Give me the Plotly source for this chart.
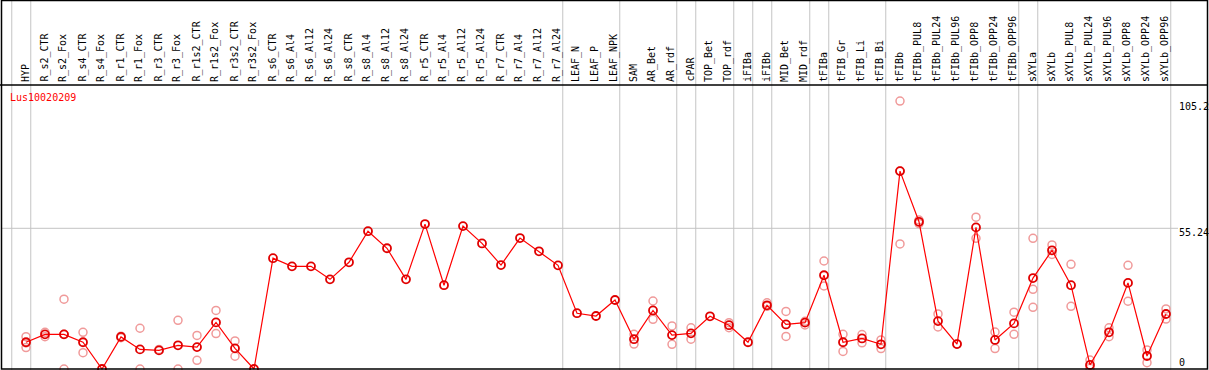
import plotly.graph_objects as go

categories = ["HYP", "R_s2_CTR", "R_s2_Fox", "R_s4_CTR", "R_s4_Fox", "R_r1_CTR", "R_r1_Fox",
              "R_r3_CTR", "R_r3_Fox", "R_r1s2_CTR", "R_r1s2_Fox", "R_r3s2_CTR", "R_r3s2_Fox",
              "R_s6_CTR", "R_s6_Al4", "R_s6_Al12", "R_s6_Al24", "R_s8_CTR", "R_s8_Al4",
              "R_s8_Al12", "R_s8_Al24", "R_r5_CTR", "R_r5_Al4", "R_r5_Al12", "R_r5_Al24",
              "R_r7_CTR", "R_r7_Al4", "R_r7_Al12", "R_r7_Al24", "LEAF_N", "LEAF_P", "LEAF_NPK",
              "SAM", "AR_Bet", "AR_rdf", "cPAR", "TOP_Bet", "TOP_rdf", "iFIBa", "iFIBb",
              "MID_Bet", "MID_rdf", "tFIBa", "tFIB_Gr", "tFIB_Li", "tFIB_Bi", "tFIBb",
              "tFIBb_PUL8", "tFIBb_PUL24", "tFIBb_PUL96", "tFIBb_OPP8", "tFIBb_OPP24",
              "tFIBb_OPP96", "sXYLa", "sXYLb", "sXYLb_PUL8", "sXYLb_PUL24", "sXYLb_PUL96",
              "sXYLb_OPP8", "sXYLb_OPP24", "sXYLb_OPP96"]

mean_values = [10.5, 13.6, 13.6, 10.5, 0.0, 12.6, 7.7, 7.3, 9.3, 8.6, 18.3, 8.1, 0.0,
               43.5, 40.3, 40.3, 35.2, 41.9, 54.1, 47.4, 35.2, 56.9, 32.9, 56.1, 49.3,
               40.8, 51.4, 46.2, 40.7, 21.9, 20.8, 27.1,
               11.7, 23.0, 13.3, 14.0, 20.7, 17.2, 10.5, 25.0, 17.5, 18.2, 36.8, 10.5,
               12.0, 9.7, 77.7, 57.8, 18.8, 9.8, 55.6, 11.4, 17.9, 35.7, 46.6, 32.9,
               1.6, 14.4, 33.8, 5.1, 21.6]

# replicate values: (category index, value)
rep_index = [0, 0, 0, 1, 1, 2, 2, 2, 3, 3, 5, 5, 6, 6, 7, 8, 8, 9, 9, 10, 10, 11, 11,
             32, 32, 33, 33, 34, 34, 35, 35, 37, 37, 39, 39, 40, 40, 41, 41, 42, 42,
             43, 43, 44, 44, 45, 45, 46, 46, 46, 47, 47, 48, 48, 49, 50, 50, 51, 51,
             52, 52, 53, 53, 53, 54, 54, 55, 55, 56, 56, 57, 57, 58, 58, 59, 59, 60, 60]
rep_values = [12.7, 8.4, 10.3, 14.4, 12.7, 27.4, 13.6, 0.0, 14.4, 6.4, 12.9, 12.3, 16.0, 0.0,
              7.7, 19.1, 0.0, 13.2, 3.4, 23.0, 13.9, 11.0, 5.0,
              13.6, 9.8, 26.7, 19.5, 16.9, 9.7, 16.2, 11.7, 18.2, 16.2, 26.0, 24.6,
              22.6, 12.8, 18.7, 17.3, 42.4, 32.6, 13.6, 6.9, 13.5, 10.3, 11.4, 8.0,
              105.2, 77.7, 49.1, 58.5, 57.1, 21.6, 16.5, 9.8, 59.6, 51.3, 14.5, 8.0,
              22.3, 13.6, 51.3, 31.3, 24.2, 48.7, 45.0, 41.1, 24.6, 3.5, 0.3,
              16.2, 12.7, 40.7, 26.6, 7.5, 2.5, 23.6, 19.6]

group_separators = [-0.75, 0.25, 28.25, 31.25, 34.25, 35.25, 37.25, 38.25, 39.25, 41.25,
                    42.25, 45.25, 52.25, 53.25, 60.25]
axis_labels = ["105.2", "55.24", "0"]
gene_name = "Lus10020209"

W, H = 1209, 370
x0_px, dx_px = 26.0, 19.0
y0_px, dy_px = 369.0, 2.547

x_range = [(0 - x0_px) / dx_px, (W - x0_px) / dx_px]
y_range = [(y0_px - H) / dy_px, y0_px / dy_px]

xs = list(range(len(categories)))
fig = go.Figure()

fig.add_trace(go.Scatter(
    x=rep_index, y=rep_values, mode="markers",
    marker=dict(symbol="circle-open", size=8, color="#f09a9a", line=dict(width=1.5)),
    hoverinfo="skip", showlegend=False))

fig.add_trace(go.Scatter(
    x=xs, y=mean_values, mode="lines+markers",
    line=dict(color="#ff0000", width=1.2),
    marker=dict(symbol="circle-open", size=8, color="#e00000", line=dict(width=1.8)),
    text=categories, showlegend=False))

shapes = []
for s in group_separators:
    shapes.append(dict(type="line", xref="x", yref="paper", x0=s, x1=s, y0=0, y1=1,
                       line=dict(color="#c4c4c4", width=1), layer="below"))
# horizontal grid at 55.24
shapes.append(dict(type="line", xref="paper", yref="y", x0=2 / W, x1=1178 / W,
                   y0=55.24, y1=55.24, line=dict(color="#c4c4c4", width=1), layer="below"))
# header separator
hdr = 1 - 85 / H
shapes.append(dict(type="line", xref="paper", yref="paper", x0=0, x1=1207.5 / W,
                   y0=hdr, y1=hdr, line=dict(color="black", width=1.5)))
# frame
shapes.append(dict(type="rect", xref="paper", yref="paper", x0=1.5 / W, x1=1207.5 / W,
                   y0=1 - 369 / H, y1=1 - 0.5 / H, line=dict(color="black", width=1.5)))

annotations = []
for i, c in enumerate(categories):
    annotations.append(dict(x=i - 0.05, y=1 - 84 / H, xref="x", yref="paper", text=c,
                            textangle=-90, showarrow=False, xanchor="center", yanchor="bottom",
                            font=dict(family="DejaVu Sans Mono", size=10, color="black")))
annotations.append(dict(x=8 / W, y=1 - 97 / H, xref="paper", yref="paper", text=gene_name,
                        showarrow=False, xanchor="left", yanchor="middle",
                        font=dict(family="DejaVu Sans Mono", size=10, color="#ff0000")))
label_px = [107, 232, 362]
for t, py in zip(axis_labels, label_px):
    annotations.append(dict(x=1177 / W, y=1 - py / H, xref="paper", yref="paper", text=t,
                            showarrow=False, xanchor="left", yanchor="middle",
                            font=dict(family="DejaVu Sans Mono", size=10, color="black")))

fig.update_layout(
    width=W, height=H, margin=dict(l=0, r=0, t=0, b=0),
    paper_bgcolor="white", plot_bgcolor="white",
    xaxis=dict(range=x_range, visible=False, fixedrange=True),
    yaxis=dict(range=y_range, visible=False, fixedrange=True),
    shapes=shapes, annotations=annotations, showlegend=False,
)

fig.write_html("out.html", config={"displayModeBar": False},
               post_script="document.body.style.margin='0';")
